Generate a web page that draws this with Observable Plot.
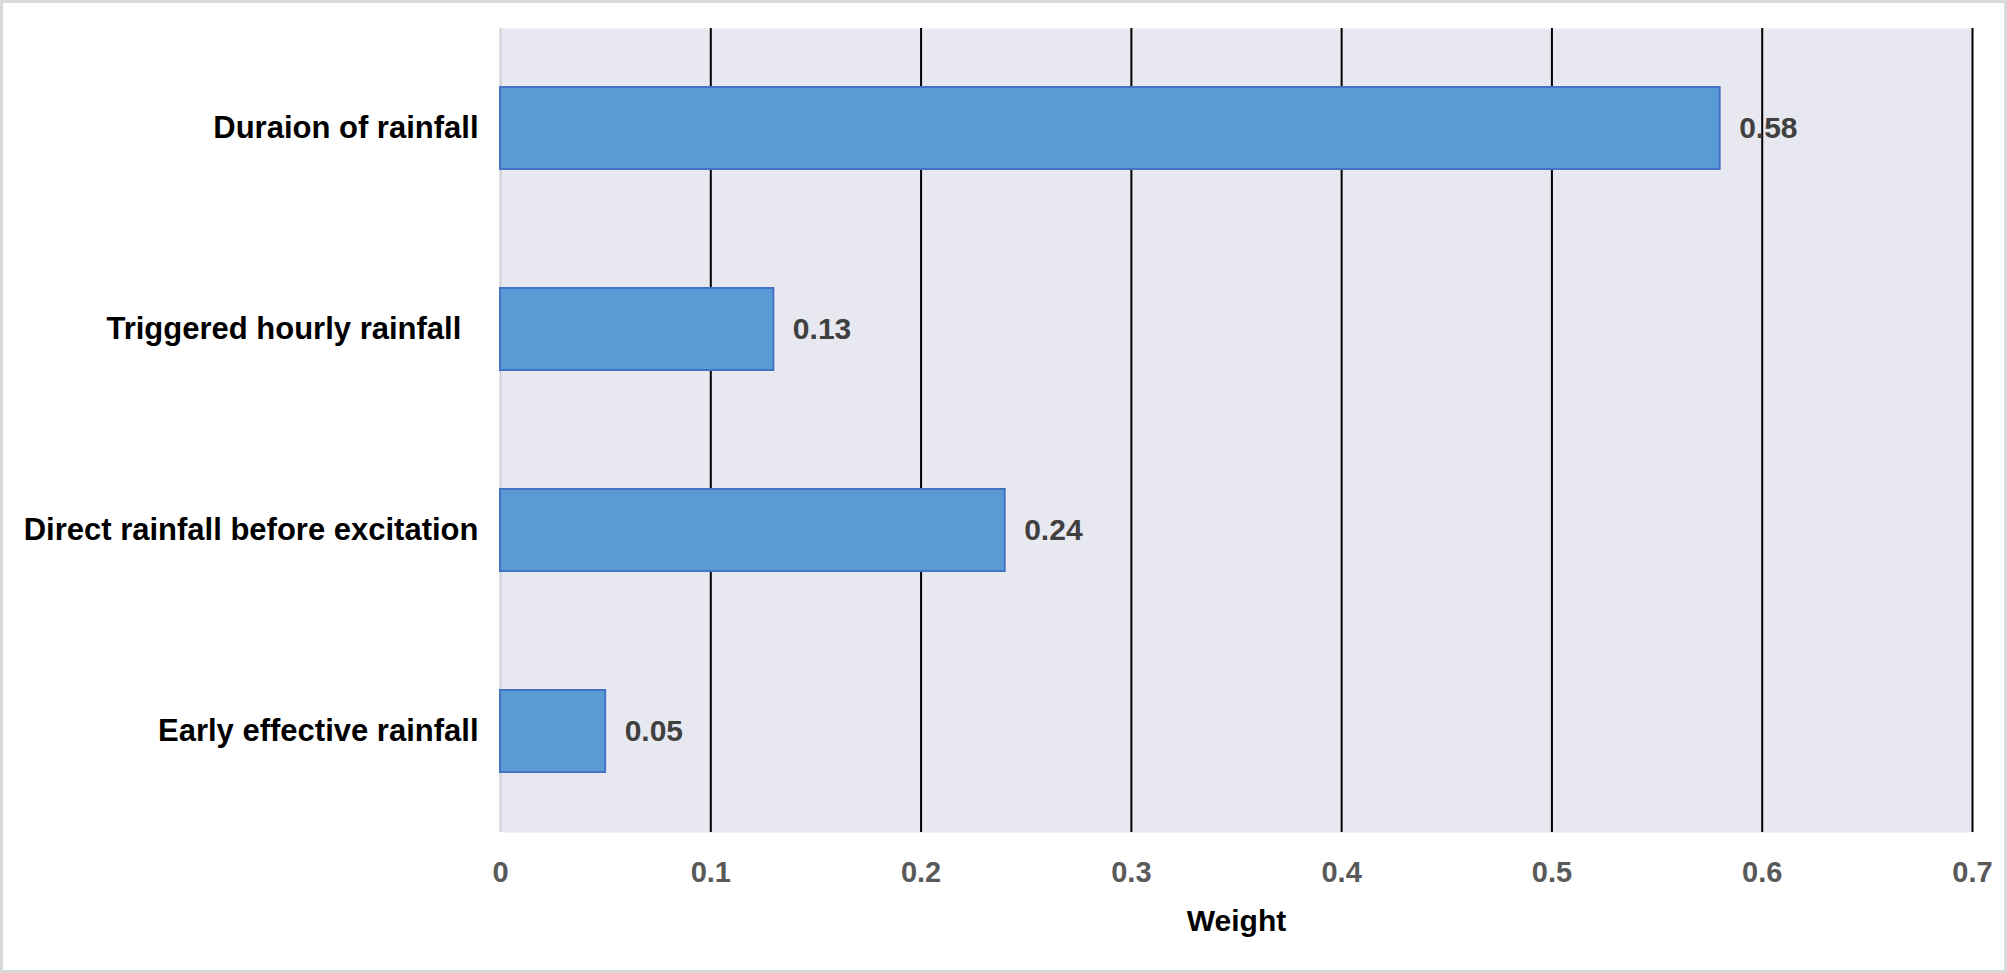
<!DOCTYPE html>
<html>
<head>
<meta charset="utf-8">
<script src="https://cdn.jsdelivr.net/npm/d3@7"></script>
<script src="https://cdn.jsdelivr.net/npm/@observablehq/plot@0.6"></script>
<style>
  html, body { margin: 0; padding: 0; background: #ffffff; }
  #wrap { position: relative; width: 2007px; height: 973px; overflow: hidden; }
  #border { position: absolute; left: 0; top: 0; width: 2007px; height: 973px; box-sizing: border-box; border: 3px solid #d9d9d9; pointer-events: none; }
</style>
</head>
<body>
<div id="wrap"><div id="border"></div></div>
<script>
// Data
const categories = ["Duraion of rainfall", "Triggered hourly rainfall\u00a0\u00a0", "Direct rainfall before excitation", "Early effective rainfall"];
const weights = [0.58, 0.13, 0.24, 0.05];
const xTicks = [0, 0.1, 0.2, 0.3, 0.4, 0.5, 0.6, 0.7];
const gridTicks = [0.1, 0.2, 0.3, 0.4, 0.5, 0.6, 0.7];

const data = categories.map((c, i) => ({category: c, weight: weights[i]}));

const font = "'Liberation Sans', Arial, sans-serif";

const chart = Plot.plot({
  width: 2007,
  height: 973,
  marginLeft: 500,
  marginRight: 35,
  marginTop: 28,
  marginBottom: 141,
  style: {fontFamily: font, background: "transparent", overflow: "visible"},
  x: {domain: [0, 0.7], ticks: xTicks, label: null},
  y: {domain: categories, paddingInner: 0.59, paddingOuter: 0.295, label: null},
  marks: [
    Plot.frame({fill: "#e8e8f0", stroke: null}),
    Plot.gridX(gridTicks, {stroke: "#000000", strokeOpacity: 1, strokeWidth: 2}),
    Plot.ruleX([0], {stroke: "#cfcfd6", strokeWidth: 2}),
    Plot.barX(data, {x: "weight", y: "category", fill: "#5b9bd5", stroke: "#4472c4", strokeWidth: 2}),
    Plot.text(data, {x: "weight", y: "category", text: d => String(d.weight), dx: 19, textAnchor: "start",
      fontSize: 30, fontWeight: "bold", fill: "#404040"}),
    Plot.axisY({tickSize: 0, tickPadding: 22, fontSize: 31, fontWeight: "bold", color: "#000000", label: null}),
    Plot.axisX({ticks: xTicks, tickSize: 0, tickPadding: 29, fontSize: 29, fontWeight: "bold", color: "#595959",
      tickFormat: d => String(d), label: null}),
    Plot.axisX({ticks: [], tickSize: 0, label: "Weight", labelArrow: "none", labelAnchor: "center", labelOffset: 98,
      fontSize: 30, fontWeight: "bold", color: "#000000"})
  ]
});
document.getElementById("wrap").insertBefore(chart, document.getElementById("border"));
</script>
</body>
</html>
